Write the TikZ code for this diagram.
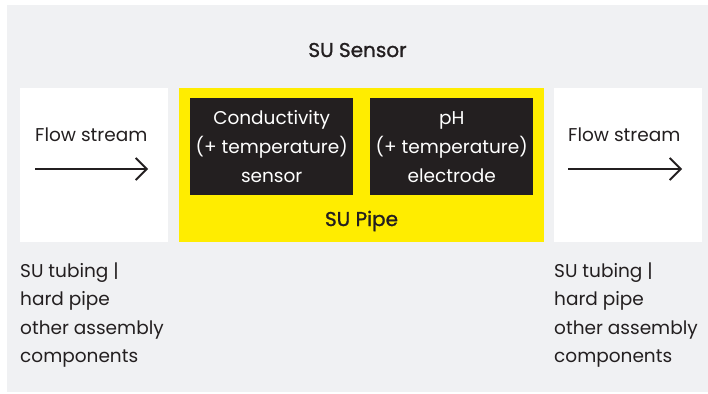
\documentclass[tikz,border=0pt]{standalone}
\usepackage{fontspec}
\setmainfont{Poppins}
\newfontfamily\medium[FakeBold=1.2]{Poppins}
\usetikzlibrary{arrows.meta,positioning}
\definecolor{panelgray}{HTML}{F0F1F3}
\definecolor{suyellow}{HTML}{FFED00}
\definecolor{sudark}{HTML}{231F20}

\begin{document}
\begin{tikzpicture}[
x=1pt, y=-1pt,
font=\fontsize{18.5}{28.5}\selectfont,
box/.style={fill=white, minimum width=148pt, minimum height=154pt, anchor=north west, inner sep=0pt},
pipe/.style={fill=suyellow, minimum width=365pt, minimum height=154pt, anchor=north west, inner sep=0pt},
probe/.style={fill=sudark, text=white, minimum width=163pt, minimum height=97pt, anchor=north west, align=center, inner sep=0pt, font=\fontsize{18.5}{29}\selectfont},
lbl/.style={text=sudark, inner sep=0pt},
title/.style={lbl, anchor=base, font=\fontsize{20}{28.5}\medium},
arr/.style={-{Straight Barb[length=11pt, width=22pt, line width=1.8pt]}, line width=1.8pt, sudark}
]
\useasboundingbox (0,0) rectangle (708,393);
\fill[panelgray] (7,5) rectangle (708,392);
\node[title] (sensor) at (357.5,57) {SU Sensor};
% boxes
\node[box] (left) at (20,88) {};
\node[pipe] (pipe) at (179,88) {};
\node[box] (right) at (554,88) {};
\node[probe] (cond) at (190,98) {Conductivity\\(+ temperature)\\sensor};
\node[probe] (ph) at (370,98) {pH\\(+ temperature)\\electrode};
\node[title] (pipelbl) at (361.5,226) {SU Pipe};
% flow streams
\node[lbl, anchor=base west] (flowL) at (35,141) {Flow stream};
\node[lbl, anchor=base west] (flowR) at (568,141) {Flow stream};
\coordinate (inL) at (35,169);
\coordinate (outL) at (148,169);
\coordinate (inR) at (568,169);
\coordinate (outR) at (682,169);
\draw[arr] (inL) -- (outL);
\draw[arr] (inR) -- (outR);
% assemblies
\node[lbl, anchor=base west, align=left] (asmL) at (20,362.5) {SU tubing |\\hard pipe\\other assembly\\components};
\node[lbl, anchor=base west, align=left] (asmR) at (554,362.5) {SU tubing |\\hard pipe\\other assembly\\components};
\end{tikzpicture}
\end{document}
